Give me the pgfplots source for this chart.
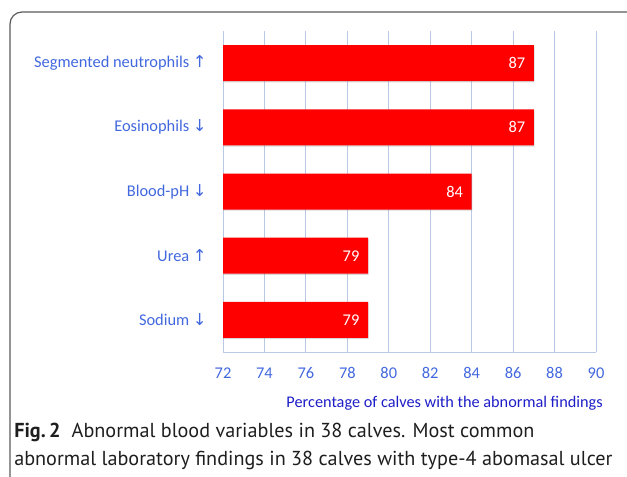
\documentclass[border=0pt]{standalone}
\usepackage{fontspec}
\usepackage{pgfplots}
\pgfplotsset{compat=1.18}
\usetikzlibrary{shadows}
\setmainfont{Carlito}
\newfontfamily\arrowfont{DejaVu Sans}
\newfontfamily\capfont{PT Sans}
\definecolor{lblblue}{RGB}{66,104,222}
\definecolor{axblue}{RGB}{30,30,200}
\definecolor{gridblue}{RGB}{185,200,228}
\definecolor{barred}{RGB}{255,0,0}
\definecolor{frame}{RGB}{90,90,90}
\definecolor{captext}{RGB}{30,30,30}
\newcommand{\up}{{\arrowfont ↑}}
\newcommand{\dn}{{\arrowfont ↓}}
\begin{document}
\begin{tikzpicture}
\path[use as bounding box] (0,0) rectangle (470.25pt,-357.75pt);
\draw[frame, line width=0.9pt, rounded corners=9pt] (7.5pt,-9pt) rectangle (490pt,-380pt);
\begin{axis}[
  at={(167.25pt,-264pt)}, anchor=south west,
  scale only axis, width=279.75pt, height=240.75pt,
  xbar, bar width=27pt,
  xmin=72, xmax=90, ymin=-0.5, ymax=4.5,
  xtick={72,74,...,90},
  ytick={0,1,2,3,4},
  yticklabels={Sodium \dn, Urea \up, Blood-pH \dn, Eosinophils \dn, Segmented neutrophils \up},
  major tick length=0pt,
  /pgf/number format/assume math mode=true,
  axis x line*=bottom, axis y line*=left,
  axis line style={gridblue, line width=0.75pt, -},
  xmajorgrids, grid style={gridblue, line width=0.75pt},
  tick label style={font=\fontsize{12.3}{14}\selectfont, text=lblblue},
  yticklabel style={anchor=east, inner sep=0pt, xshift=-12pt},
  xticklabel style={anchor=center, inner sep=0pt, yshift=-15.75pt},
  nodes near coords,
  every node near coord/.append style={anchor=east, text=white, font=\fontsize{12.3}{14}\selectfont, xshift=-3pt},
  clip=true,
]
\addplot[fill=barred, draw=none, drop shadow={shadow xshift=0.5pt, shadow yshift=-0.9pt, opacity=0.3}] coordinates {(79,0) (79,1) (84,2) (87,3) (87,4)};
\end{axis}
\node[anchor=east, text=axblue, font=\fontsize{12.2}{14}\selectfont, inner sep=0pt] at (452.25pt,-302.25pt) {Percentage of calves with the abnormal findings};
\node[anchor=base west, inner sep=0pt, text=captext, font=\capfont\fontsize{15.15}{17}\selectfont] at (10.5pt,-327.75pt) {\textbf{Fig.\,2}\hspace{0.55em}Abnormal blood variables in 38 calves. Most common};
\node[anchor=base west, inner sep=0pt, text=captext, font=\capfont\fontsize{15.15}{17}\selectfont] at (10.5pt,-348.75pt) {abnormal laboratory findings in 38 calves with type-4 abomasal ulcer};
\end{tikzpicture}
\end{document}
